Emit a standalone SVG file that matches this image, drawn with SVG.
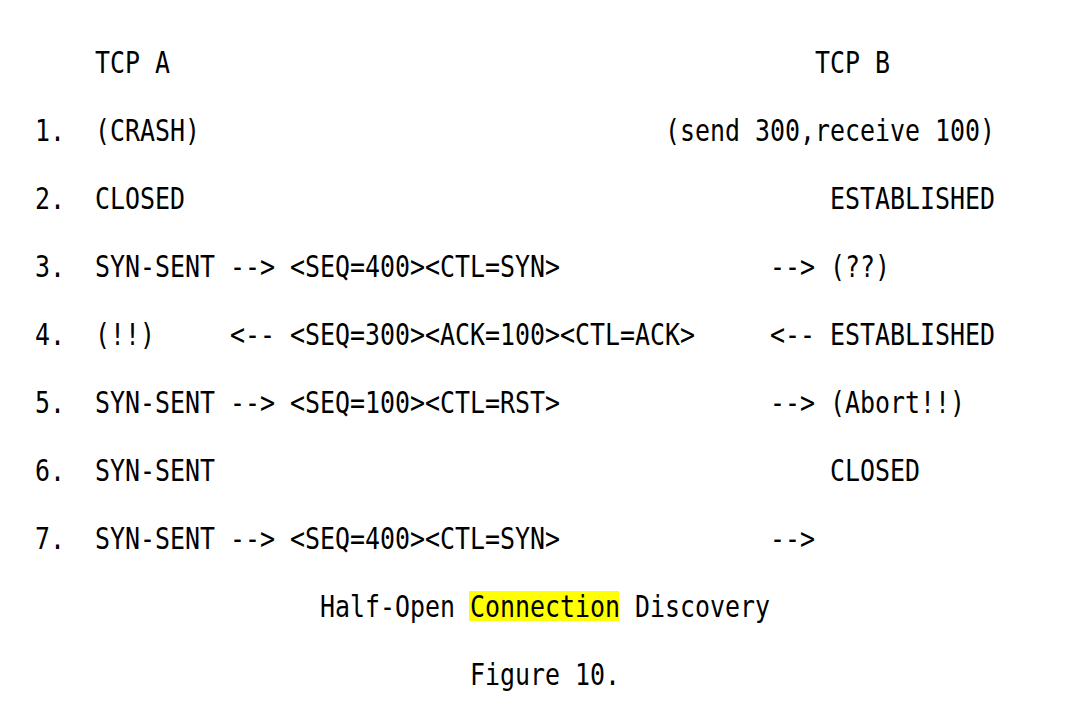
<svg xmlns="http://www.w3.org/2000/svg" width="1065" height="705" viewBox="0 0 1065 705">
<style>
text{font-family:"DejaVu Sans Mono","Liberation Mono",monospace;font-size:31px;fill:#000;white-space:pre}
</style>
<rect width="1065" height="705" fill="#fff"/>
<g id="header">
<text x="95" y="73" textLength="75" lengthAdjust="spacingAndGlyphs">TCP A</text>
<text x="815" y="73" textLength="75" lengthAdjust="spacingAndGlyphs">TCP B</text>
</g>
<g id="row1">
<text x="35" y="141" textLength="30" lengthAdjust="spacingAndGlyphs">1.</text>
<text x="95" y="141" textLength="105" lengthAdjust="spacingAndGlyphs">(CRASH)</text>
<text x="665" y="141" textLength="330" lengthAdjust="spacingAndGlyphs">(send 300,receive 100)</text>
</g>
<g id="row2">
<text x="35" y="209" textLength="30" lengthAdjust="spacingAndGlyphs">2.</text>
<text x="95" y="209" textLength="90" lengthAdjust="spacingAndGlyphs">CLOSED</text>
<text x="830" y="209" textLength="165" lengthAdjust="spacingAndGlyphs">ESTABLISHED</text>
</g>
<g id="row3">
<text x="35" y="277" textLength="30" lengthAdjust="spacingAndGlyphs">3.</text>
<text x="95" y="277" textLength="465" lengthAdjust="spacingAndGlyphs">SYN-SENT --&gt; &lt;SEQ=400&gt;&lt;CTL=SYN&gt;</text>
<text x="770" y="277" textLength="120" lengthAdjust="spacingAndGlyphs">--&gt; (??)</text>
</g>
<g id="row4">
<text x="35" y="345" textLength="30" lengthAdjust="spacingAndGlyphs">4.</text>
<text x="95" y="345" textLength="60" lengthAdjust="spacingAndGlyphs">(!!)</text>
<text x="230" y="345" textLength="465" lengthAdjust="spacingAndGlyphs">&lt;-- &lt;SEQ=300&gt;&lt;ACK=100&gt;&lt;CTL=ACK&gt;</text>
<text x="770" y="345" textLength="225" lengthAdjust="spacingAndGlyphs">&lt;-- ESTABLISHED</text>
</g>
<g id="row5">
<text x="35" y="413" textLength="30" lengthAdjust="spacingAndGlyphs">5.</text>
<text x="95" y="413" textLength="465" lengthAdjust="spacingAndGlyphs">SYN-SENT --&gt; &lt;SEQ=100&gt;&lt;CTL=RST&gt;</text>
<text x="770" y="413" textLength="195" lengthAdjust="spacingAndGlyphs">--&gt; (Abort!!)</text>
</g>
<g id="row6">
<text x="35" y="481" textLength="30" lengthAdjust="spacingAndGlyphs">6.</text>
<text x="95" y="481" textLength="120" lengthAdjust="spacingAndGlyphs">SYN-SENT</text>
<text x="830" y="481" textLength="90" lengthAdjust="spacingAndGlyphs">CLOSED</text>
</g>
<g id="row7">
<text x="35" y="549" textLength="30" lengthAdjust="spacingAndGlyphs">7.</text>
<text x="95" y="549" textLength="465" lengthAdjust="spacingAndGlyphs">SYN-SENT --&gt; &lt;SEQ=400&gt;&lt;CTL=SYN&gt;</text>
<text x="770" y="549" textLength="45" lengthAdjust="spacingAndGlyphs">--&gt;</text>
</g>
<g id="caption">
<rect x="469" y="591" width="150" height="30" fill="#ffff00"/>
<text x="320" y="617" textLength="135" lengthAdjust="spacingAndGlyphs">Half-Open</text>
<text x="470" y="617" textLength="150" lengthAdjust="spacingAndGlyphs">Connection</text>
<text x="635" y="617" textLength="135" lengthAdjust="spacingAndGlyphs">Discovery</text>
<text x="470" y="685" textLength="150" lengthAdjust="spacingAndGlyphs">Figure 10.</text>
</g>
</svg>
